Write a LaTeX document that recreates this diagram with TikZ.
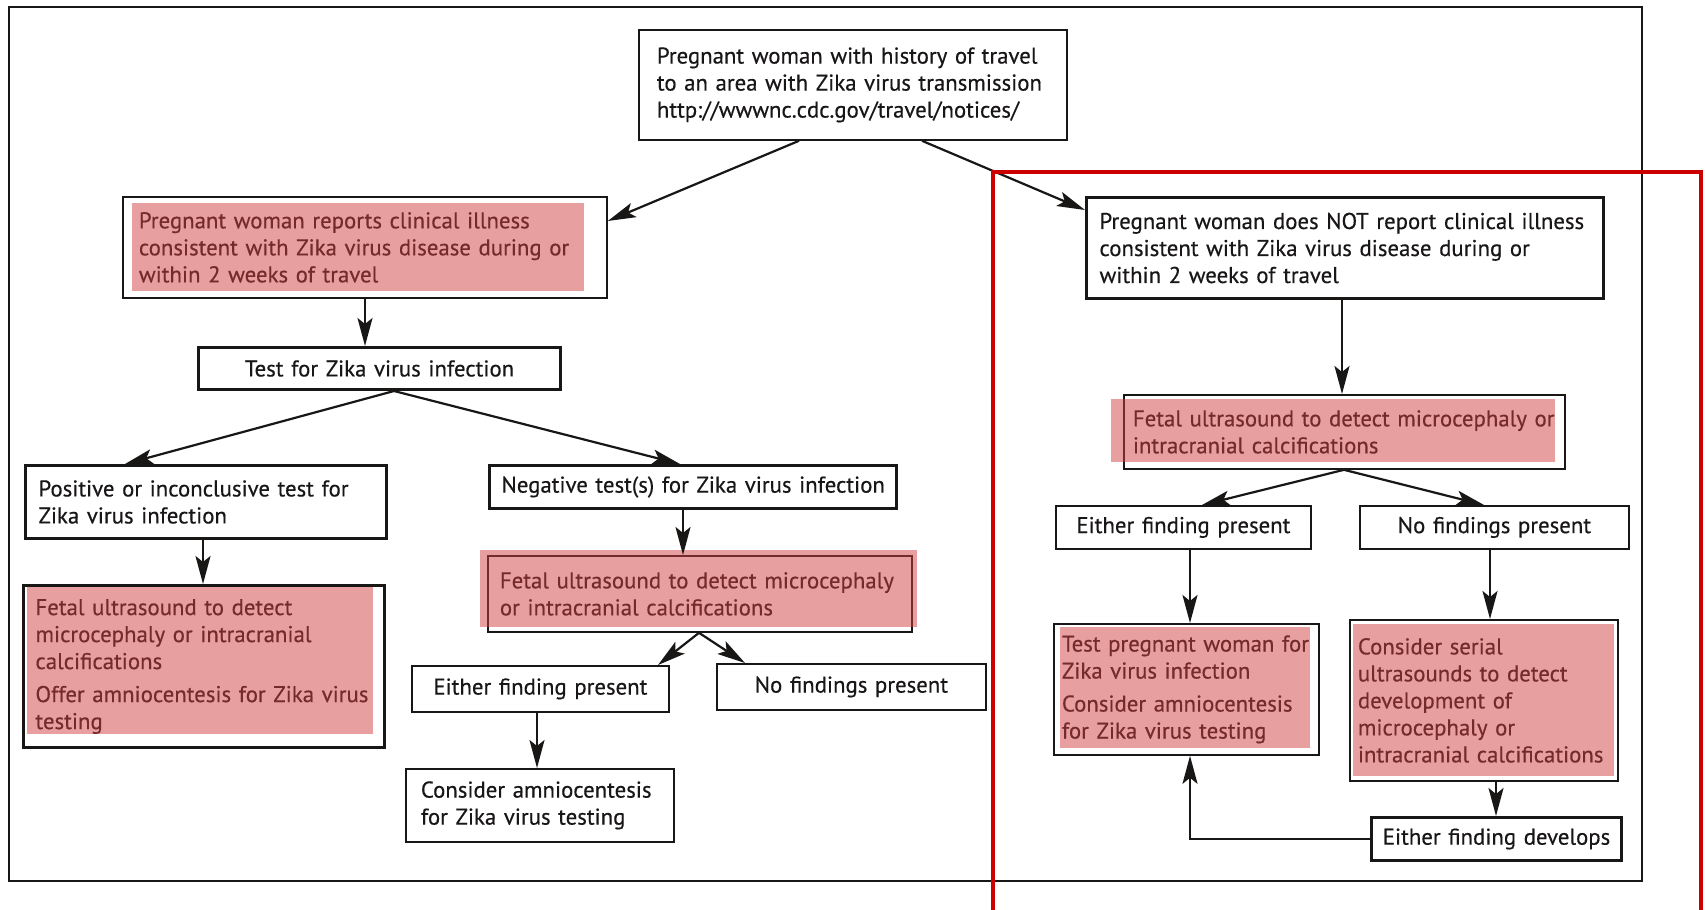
\documentclass[tikz,border=0pt]{standalone}
\usepackage{fontspec}
\setmainfont{PT Sans}[FakeBold=0.4]
\usetikzlibrary{arrows.meta,calc}
\definecolor{pinkov}{RGB}{209,65,65}
\definecolor{frameRed}{RGB}{204,0,0}
\definecolor{ink}{RGB}{25,22,22}
\newcommand{\ol}[1]{\mbox{#1}}
\tikzset{
  box/.style={draw=ink, line width=1.8pt, fill=white, anchor=north west, align=left,
    inner ysep=0pt, font=\fontsize{22.8}{27}\selectfont, text=ink},
  heavybox/.style={box, line width=3pt},
  arr/.style={draw=ink, line width=2.2pt, -{Stealth[length=28pt,width=15pt,inset=6pt]}},
  pinkov/.style={fill=pinkov, fill opacity=0.5, draw=none}
}
\begin{document}
\begin{tikzpicture}[x=1pt,y=-1pt]
\useasboundingbox (0,0) rectangle (1705,910);
\fill[white] (0,0) rectangle (1705,910);
% outer frame
\draw[ink, line width=2.5pt] (9,7) rectangle (1642,881);

% nodes: corners (x1,y1)-(x2,y2); width=x2-x1, height=y2-y1
\node[box, inner xsep=18pt, text width=392pt, minimum width=428pt, minimum height=110pt] (top) at (638,29)
  {\ol{Pregnant woman with history of travel}\\\ol{to an area with Zika virus transmission}\\\ol{http://wwwnc.cdc.gov/travel/notices/}};
\node[box, inner xsep=16pt, text width=452pt, minimum width=484pt, minimum height=101pt] (L1) at (122,196)
  {\ol{Pregnant woman reports clinical illness}\\\ol{consistent with Zika virus disease during or}\\\ol{within 2 weeks of travel}};
\node[heavybox, inner xsep=13pt, text width=491pt, minimum width=517pt, minimum height=101pt] (R1) at (1085,196)
  {\ol{Pregnant woman does NOT report clinical illness}\\\ol{consistent with Zika virus disease during or}\\\ol{within 2 weeks of travel}};
\node[heavybox, align=center, inner xsep=0pt, text width=362pt, minimum width=362pt, minimum height=42pt] (test) at (197,346)
  {\ol{Test for Zika virus infection}};
\node[heavybox, inner xsep=13pt, text width=335pt, minimum width=361pt, minimum height=73pt] (pos) at (24,464)
  {\ol{Positive or inconclusive test for}\\\ol{Zika virus infection}};
\node[heavybox, inner xsep=12pt, text width=383pt, minimum width=407pt, minimum height=43pt] (neg) at (488,464)
  {\ol{Negative test(s) for Zika virus infection}};
\node[heavybox, inner xsep=12pt, text width=337pt, minimum width=361pt, minimum height=162pt] (fetalA) at (22,584)
  {\ol{Fetal ultrasound to detect}\\\ol{microcephaly or intracranial}\\\ol{calcifications}\\[6pt]\ol{Offer amniocentesis for Zika virus}\\\ol{testing}};
\node[box, inner xsep=12pt, text width=400pt, minimum width=424pt, minimum height=76pt] (fetalB) at (487,555)
  {\ol{Fetal ultrasound to detect microcephaly}\\\ol{or intracranial calcifications}};
\node[box, align=center, inner xsep=0pt, text width=257pt, minimum width=257pt, minimum height=46pt] (eitherA) at (411,665)
  {\ol{Either finding present}};
\node[box, align=center, inner xsep=0pt, text width=269pt, minimum width=269pt, minimum height=46pt] (noA) at (716,663)
  {\ol{No findings present}};
\node[box, inner xsep=15pt, text width=238pt, minimum width=268pt, minimum height=73pt] (consA) at (405,768)
  {\ol{Consider amniocentesis}\\\ol{for Zika virus testing}};
\node[box, inner xsep=9pt, text width=423pt, minimum width=441pt, minimum height=74pt] (fetalC) at (1123,394)
  {\ol{Fetal ultrasound to detect microcephaly or}\\\ol{intracranial calcifications}};
\node[box, align=center, inner xsep=0pt, text width=255pt, minimum width=255pt, minimum height=43pt] (eitherB) at (1055,505)
  {\ol{Either finding present}};
\node[box, align=center, inner xsep=0pt, text width=269pt, minimum width=269pt, minimum height=43pt] (noB) at (1359,505)
  {\ol{No findings present}};
\node[box, inner xsep=8pt, text width=249pt, minimum width=265pt, minimum height=131pt] (testB) at (1053,623)
  {\ol{Test pregnant woman for}\\\ol{Zika virus infection}\\[6pt]\ol{Consider amniocentesis}\\\ol{for Zika virus testing}};
\node[box, inner xsep=8pt, text width=252pt, minimum width=268pt, minimum height=161pt] (serial) at (1349,619)
  {\ol{Consider serial}\\\ol{ultrasounds to detect}\\\ol{development of}\\\ol{microcephaly or}\\\ol{intracranial calcifications}};
\node[heavybox, align=center, inner xsep=0pt, text width=250pt, minimum width=250pt, minimum height=43pt] (dev) at (1370,816)
  {\ol{Either finding develops}};

% pink highlight overlays
\fill[pinkov] (132,203) rectangle (584,291);
\fill[pinkov] (27,587) rectangle (373,734);
\fill[pinkov] (480,550) rectangle (917,627);
\fill[pinkov] (1111,399) rectangle (1555,462);
\fill[pinkov] (1060,627) rectangle (1310,748);
\fill[pinkov] (1353,624) rectangle (1614,776);

% connectors
\draw[arr] (799,0 |- top.south) -- (L1.east |- 0,221);
\draw[arr] (922,0 |- top.south) -- (R1.west |- 0,210);
\draw[arr] (365,0 |- L1.south) -- (365,0 |- test.north);
\draw[arr] (394,0 |- test.south) -- (125,0 |- pos.north);
\draw[arr] (394,0 |- test.south) -- (680,0 |- neg.north);
\draw[arr] (203,0 |- pos.south) -- (203,0 |- fetalA.north);
\draw[arr] (683,0 |- neg.south) -- (683,0 |- fetalB.north);
\draw[arr] (699,0 |- fetalB.south) -- (658,0 |- eitherA.north);
\draw[arr] (699,0 |- fetalB.south) -- (745,0 |- noA.north);
\draw[arr] (537,0 |- eitherA.south) -- (537,0 |- consA.north);
\draw[arr] (1342,0 |- R1.south) -- (1342,0 |- fetalC.north);
\draw[arr] (1344,0 |- fetalC.south) -- (1202,0 |- eitherB.north);
\draw[arr] (1344,0 |- fetalC.south) -- (1484,0 |- noB.north);
\draw[arr] (1190,0 |- eitherB.south) -- (1190,0 |- testB.north);
\draw[arr] (1490,0 |- noB.south) -- (1490,0 |- serial.north);
\draw[arr] (1496,0 |- serial.south) -- (1496,0 |- dev.north);
\draw[arr] (dev.west) -- (1190,0 |- dev.west) -- (1190,0 |- testB.south);

% red highlight frame
\draw[frameRed, line width=4pt] (993,920) -- (993,172) -- (1701,172) -- (1701,920);
\end{tikzpicture}
\end{document}
